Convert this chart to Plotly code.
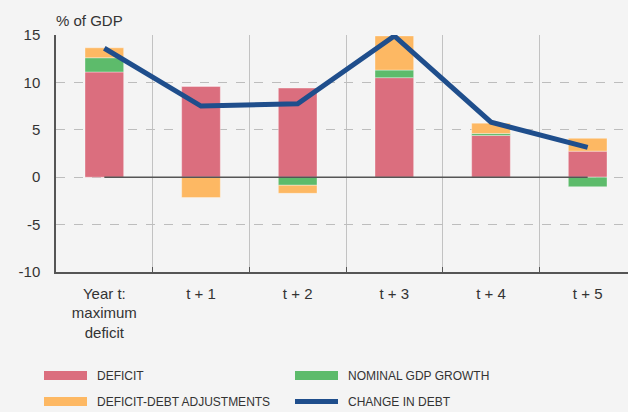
import plotly.graph_objects as go

categories = ["Year t:<br>maximum<br>deficit", "t + 1", "t + 2", "t + 3", "t + 4", "t + 5"]
deficit = [11.1, 9.6, 9.4, 10.5, 4.4, 2.75]
gdp_growth = [1.5, 0.0, -0.85, 0.8, 0.2, -1.0]
dd_adjust = [1.05, -2.15, -0.85, 3.6, 1.1, 1.35]
change_in_debt = [13.6, 7.5, 7.75, 14.9, 5.8, 3.15]
y_tickvals = [-10, -5, 0, 5, 10, 15]
y_ticklabels = ["-10", "-5", "0", "5", "10", "15"]

C_DEF = "#DB6E7E"
C_GDP = "#5DBB6B"
C_ADJ = "#FDB863"
C_DEBT = "#1F4E8C"
FONT = "Liberation Sans, Arial, sans-serif"
NARROW = "Liberation Sans Narrow, Arial Narrow, sans-serif"

# plot-area geometry (pixels)
L, T, W, H = 56, 35, 572, 237
def px(x):
    return (x - L) / W
def py(y):
    return (T + H - y) / H

fig = go.Figure()
edge = dict(width=1, color="rgba(255,255,255,0.35)")
fig.add_trace(go.Bar(x=categories, y=deficit, marker=dict(color=C_DEF, line=edge), width=0.4, name="DEFICIT"))
fig.add_trace(go.Bar(x=categories, y=gdp_growth, marker=dict(color=C_GDP, line=edge), width=0.4, name="NOMINAL GDP GROWTH"))
fig.add_trace(go.Bar(x=categories, y=dd_adjust, marker=dict(color=C_ADJ, line=edge), width=0.4, name="DEFICIT-DEBT ADJUSTMENTS"))
fig.add_trace(go.Scatter(x=categories, y=change_in_debt, mode="lines", line=dict(color=C_DEBT, width=5), name="CHANGE IN DEBT"))

shapes = [
    dict(type="line", xref="x", yref="y", x0=categories[0], x1=categories[-1], y0=0, y1=0,
         line=dict(color="#555555", width=1.5), layer="above"),
]
annotations = [
    dict(text="% of GDP", xref="paper", yref="paper", x=px(54), y=py(20), xanchor="left", yanchor="middle",
         showarrow=False, font=dict(family=FONT, size=15, color="#333333")),
]

legend_items = [
    ("DEFICIT", C_DEF, "bar", 44, 375.5),
    ("DEFICIT-DEBT ADJUSTMENTS", C_ADJ, "bar", 44, 401.5),
    ("NOMINAL GDP GROWTH", C_GDP, "bar", 295, 375.5),
    ("CHANGE IN DEBT", C_DEBT, "line", 295, 401.5),
]
for label, color, kind, x0, yc in legend_items:
    if kind == "bar":
        shapes.append(dict(type="rect", xref="paper", yref="paper", x0=px(x0), x1=px(x0 + 43),
                           y0=py(yc + 4.5), y1=py(yc - 4.5), fillcolor=color, line=dict(width=0)))
    else:
        shapes.append(dict(type="line", xref="paper", yref="paper", x0=px(x0), x1=px(x0 + 43),
                           y0=py(yc), y1=py(yc), line=dict(color=color, width=5)))
    annotations.append(dict(text=label, xref="paper", yref="paper", x=px(x0 + 51), y=py(yc + 0.5),
                            xanchor="left", yanchor="middle", showarrow=False,
                            font=dict(family=NARROW, size=12, color="#333333")))

fig.update_layout(
    width=628, height=412,
    margin=dict(l=L, r=628 - L - W, t=T, b=412 - T - H, autoexpand=False),
    paper_bgcolor="#F4F4F4", plot_bgcolor="#F4F4F4",
    barmode="relative", bargap=0.6,
    showlegend=False,
    shapes=shapes, annotations=annotations,
    font=dict(family=FONT, size=15, color="#333333"),
)
fig.update_xaxes(
    range=[-0.5, 5.5 - 8 / 96.7], tickson="boundaries",
    showgrid=True, gridcolor="#C2C2C2", gridwidth=1,
    showline=True, linecolor="#555555", linewidth=1.5,
    ticks="inside", ticklen=5, tickcolor="#555555",
    tickfont=dict(family=FONT, size=15, color="#333333"),
    ticklabelstandoff=7, automargin=False,
)
fig.update_yaxes(
    range=[-10, 15], tickmode="array", tickvals=y_tickvals, ticktext=y_ticklabels,
    showgrid=True, gridcolor="#BDBDBD", gridwidth=1, griddash="dash",
    zeroline=False,
    showline=True, linecolor="#555555", linewidth=1.5,
    ticks="", tickfont=dict(family=FONT, size=15, color="#333333"),
    ticklabelstandoff=11, automargin=False,
)

fig.write_html(
    "out.html",
    config={"displayModeBar": False},
    post_script="document.body.style.margin='0';document.body.style.padding='0';"
                "document.body.style.background='#F4F4F4';document.body.style.overflow='hidden';",
)
